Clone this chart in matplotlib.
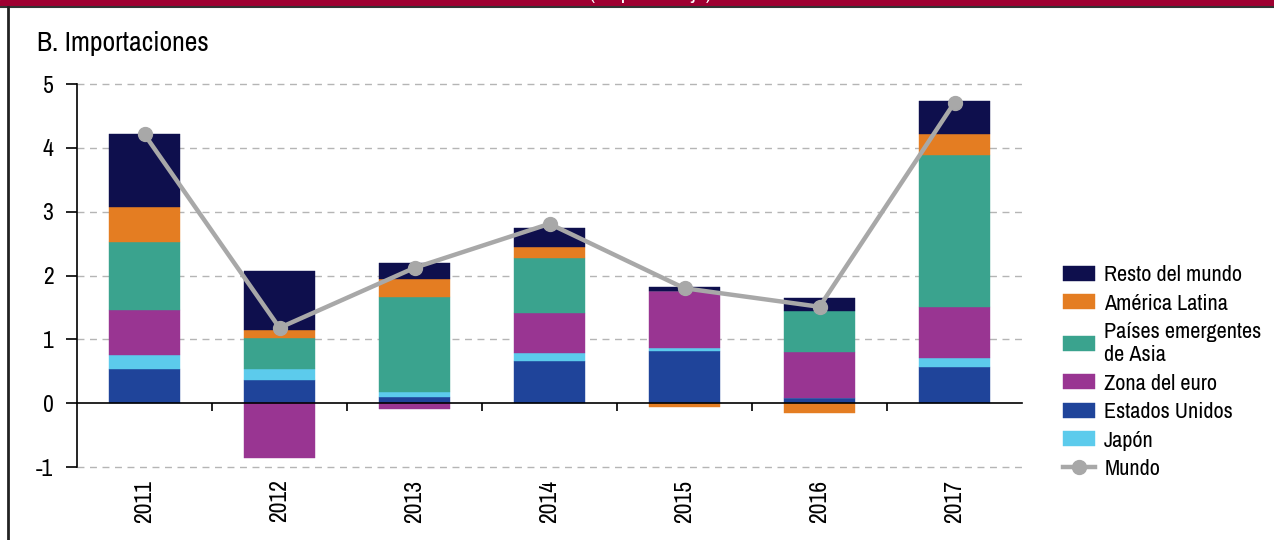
import matplotlib
matplotlib.use("Agg")
import matplotlib.pyplot as plt
import matplotlib.lines as mlines
from matplotlib import font_manager
import numpy as np

# buscar una fuente estrecha si existe
nombres = sorted(set(f.name for f in font_manager.fontManager.ttflist))
narrow = [n for n in nombres if "Narrow" in n or "Condensed" in n]
if narrow:
    plt.rcParams['font.family'] = [narrow[0], 'DejaVu Sans']
    esc = 1.0
else:
    plt.rcParams['font.family'] = ['DejaVu Sans']
    esc = 0.8

# datos
anios = ["2011", "2012", "2013", "2014", "2015", "2016", "2017"]
estados_unidos = [0.53, 0.37, 0.09, 0.66, 0.82, 0.08, 0.57]
japon = [0.23, 0.16, 0.09, 0.12, 0.05, 0.00, 0.13]
zona_euro = [0.70, -0.86, -0.09, 0.63, 0.88, 0.72, 0.80]
asia = [1.06, 0.49, 1.49, 0.87, 0.00, 0.65, 2.39]
america_latina = [0.55, 0.12, 0.28, 0.16, -0.06, -0.15, 0.32]
resto_mundo = [1.14, 0.93, 0.25, 0.31, 0.07, 0.20, 0.52]
mundo = [4.21, 1.18, 2.12, 2.81, 1.80, 1.51, 4.71]

series = [
    ("Estados Unidos", estados_unidos, "#1f449a"),
    ("Japón", japon, "#5ccbec"),
    ("Zona del euro", zona_euro, "#993592"),
    ("Países emergentes\nde Asia", asia, "#3aa38e"),
    ("América Latina", america_latina, "#e47d22"),
    ("Resto del mundo", resto_mundo, "#0e0f4d"),
]

fig = plt.figure(figsize=(12.74, 5.4), dpi=100)
ax = fig.add_axes([77/1274, 1-467/540, (1022-77)/1274, (467-84)/540])

x = np.arange(len(anios))
pos = np.zeros(len(anios))
neg = np.zeros(len(anios))
handles = {}
for nombre, vals, col in series:
    v = np.array(vals)
    base = np.where(v >= 0, pos, neg)
    b = ax.bar(x, v, 0.52, bottom=base, color=col, edgecolor=col, linewidth=0.3, zorder=3)
    handles[nombre] = b
    pos = pos + np.where(v >= 0, v, 0)
    neg = neg + np.where(v < 0, v, 0)

ax.plot(x, mundo, color="#a8a8a8", lw=3.2, marker="o", ms=10, zorder=5)

ax.set_xlim(-0.5, 6.5)
ax.set_ylim(-1, 5)
ax.set_yticks([-1, 0, 1, 2, 3, 4, 5])
ax.set_yticklabels(["-1", "0", "1", "2", "3", "4", "5"], fontsize=17*esc)
for g in [-1, 1, 2, 3, 4, 5]:
    ax.axhline(g, color="#b5b5b5", lw=1, ls=(0, (5, 4)), zorder=1, clip_on=False)

for s in ["top", "right"]:
    ax.spines[s].set_visible(False)
ax.spines["bottom"].set_position(("data", 0))
ax.spines["bottom"].set_zorder(6)
ax.spines["left"].set_linewidth(1.2)
ax.spines["bottom"].set_linewidth(1.2)
ax.tick_params(axis="y", length=8, width=1.2, pad=9)

ax.set_xticks(x)
ax.set_xticklabels(anios, rotation=90, fontsize=17*esc)
ax.set_xticks(x[:-1] + 0.5, minor=True)
ax.tick_params(axis="x", which="major", length=0, pad=55)
ax.tick_params(axis="x", which="minor", length=6, width=1.2, direction="out")

# leyenda
orden = ["Resto del mundo", "América Latina", "Países emergentes\nde Asia",
         "Zona del euro", "Estados Unidos", "Japón"]
hl = [handles[n] for n in orden]
linea = mlines.Line2D([], [], color="#a8a8a8", lw=3.2, marker="o", ms=10)
leg = fig.legend(hl + [linea], orden + ["Mundo"], loc="upper left",
                 bbox_to_anchor=(1052/1274, 1-254/540), frameon=False,
                 fontsize=16*esc, handlelength=1.45/esc, handleheight=0.65/esc,
                 labelspacing=0.38/esc, handletextpad=0.4/esc, borderpad=0)

fig.text(37/1274, 1-43/540, "B. Importaciones", fontsize=20*esc, va="center", ha="left")

# franja superior
fig.patches.append(plt.Rectangle((0, 1-6/540), 1, 6/540, transform=fig.transFigure,
                                 color="#9e0031", zorder=0))
fig.lines.append(mlines.Line2D([0, 1], [1-7/540, 1-7/540], transform=fig.transFigure,
                               color="#333333", lw=1.5))
fig.lines.append(mlines.Line2D([8/1274, 8/1274], [0, 1-7/540], transform=fig.transFigure,
                               color="#222222", lw=2))
fig.text(650/1274, 1+1/540, "(en porcentaje)", fontsize=16, fontweight="bold",
         color="white", ha="center", va="baseline")

fig.savefig("out.png", dpi=100)
